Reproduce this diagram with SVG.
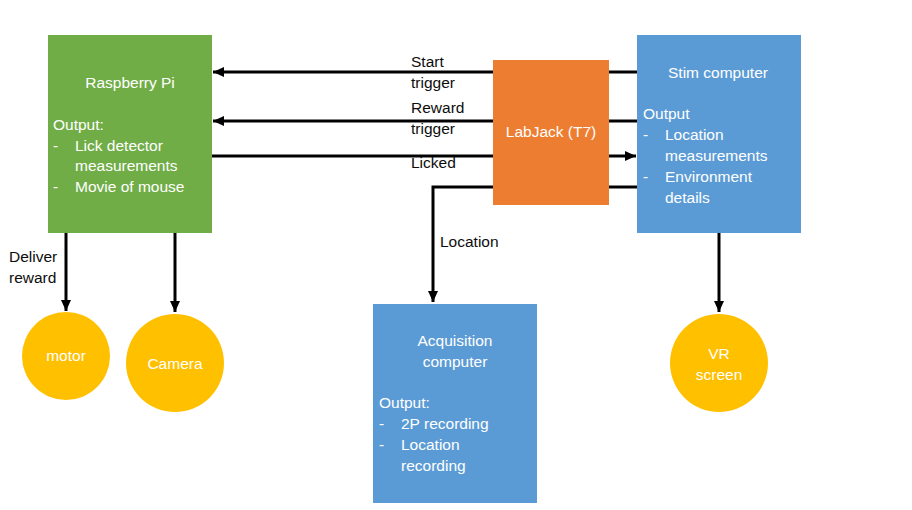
<svg xmlns="http://www.w3.org/2000/svg" width="912" height="510" viewBox="0 0 912 510">
<style>
text{font-family:"Liberation Sans",Arial,sans-serif;font-size:15.5px}
.w{fill:#ffffff}
.k{fill:#0d0d0d}
.c{text-anchor:middle}
.ln{stroke:#000;stroke-width:3;fill:none}
</style>
<defs>
<marker id="ah" markerUnits="userSpaceOnUse" markerWidth="12" markerHeight="10" refX="11" refY="5" orient="auto">
<path d="M0,0 L11,5 L0,10 Z" fill="#000"/>
</marker>
</defs>
<rect width="912" height="510" fill="#fff"/>
<g id="connectors">
<line class="ln" x1="493" y1="72" x2="213" y2="72" marker-end="url(#ah)"/>
<line class="ln" x1="609" y1="72" x2="637" y2="72"/>
<line class="ln" x1="493" y1="121" x2="213" y2="121" marker-end="url(#ah)"/>
<line class="ln" x1="609" y1="121" x2="637" y2="121"/>
<line class="ln" x1="212" y1="156" x2="493" y2="156"/>
<line class="ln" x1="609" y1="156" x2="636" y2="156" marker-end="url(#ah)"/>
<line class="ln" x1="609" y1="187" x2="637" y2="187"/>
<polyline class="ln" points="493,187 433,187 433,302" marker-end="url(#ah)"/>
<line class="ln" x1="66" y1="233" x2="66" y2="311" marker-end="url(#ah)"/>
<line class="ln" x1="175" y1="233" x2="175" y2="312" marker-end="url(#ah)"/>
<line class="ln" x1="719" y1="233" x2="719" y2="312" marker-end="url(#ah)"/>
<text class="k" x="411" y="67">Start</text>
<text class="k" x="411" y="88">trigger</text>
<text class="k" x="411" y="113">Reward</text>
<text class="k" x="411" y="134">trigger</text>
<text class="k" x="411" y="168">Licked</text>
<text class="k" x="440" y="247">Location</text>
<text class="k" x="9" y="262">Deliver</text>
<text class="k" x="9" y="283">reward</text>
</g>
<g id="raspberry">
<rect x="48" y="35" width="164" height="198" fill="#70AD47"/>
<text class="w c" x="130" y="88">Raspberry Pi</text>
<text class="w" x="53" y="130">Output:</text>
<text class="w" x="53" y="151">-</text>
<text class="w" x="75" y="151">Lick detector</text>
<text class="w" x="75" y="171">measurements</text>
<text class="w" x="53" y="192">-</text>
<text class="w" x="75" y="192">Movie of mouse</text>
</g>
<g id="labjack">
<rect x="493" y="60" width="116" height="145" fill="#ED7D31"/>
<text class="w c" x="551" y="137">LabJack (T7)</text>
</g>
<g id="stim">
<rect x="637" y="35" width="164" height="198" fill="#5B9BD5"/>
<text class="w c" x="718" y="78">Stim computer</text>
<text class="w" x="643" y="119">Output</text>
<text class="w" x="643" y="140">-</text>
<text class="w" x="665" y="140">Location</text>
<text class="w" x="665" y="161">measurements</text>
<text class="w" x="643" y="182">-</text>
<text class="w" x="665" y="182">Environment</text>
<text class="w" x="665" y="203">details</text>
</g>
<g id="acquisition">
<rect x="373" y="304" width="164" height="199" fill="#5B9BD5"/>
<text class="w c" x="455" y="346">Acquisition</text>
<text class="w c" x="455" y="367">computer</text>
<text class="w" x="379" y="408">Output:</text>
<text class="w" x="379" y="429">-</text>
<text class="w" x="401" y="429">2P recording</text>
<text class="w" x="379" y="450">-</text>
<text class="w" x="401" y="450">Location</text>
<text class="w" x="401" y="471">recording</text>
</g>
<g id="motor">
<circle cx="66" cy="356" r="44" fill="#FFC000"/>
<text class="w c" x="66" y="361">motor</text>
</g>
<g id="camera">
<circle cx="175" cy="363" r="49" fill="#FFC000"/>
<text class="w c" x="175" y="369">Camera</text>
</g>
<g id="vr">
<circle cx="719" cy="363" r="49" fill="#FFC000"/>
<text class="w c" x="719" y="359">VR</text>
<text class="w c" x="719" y="380">screen</text>
</g>
</svg>
